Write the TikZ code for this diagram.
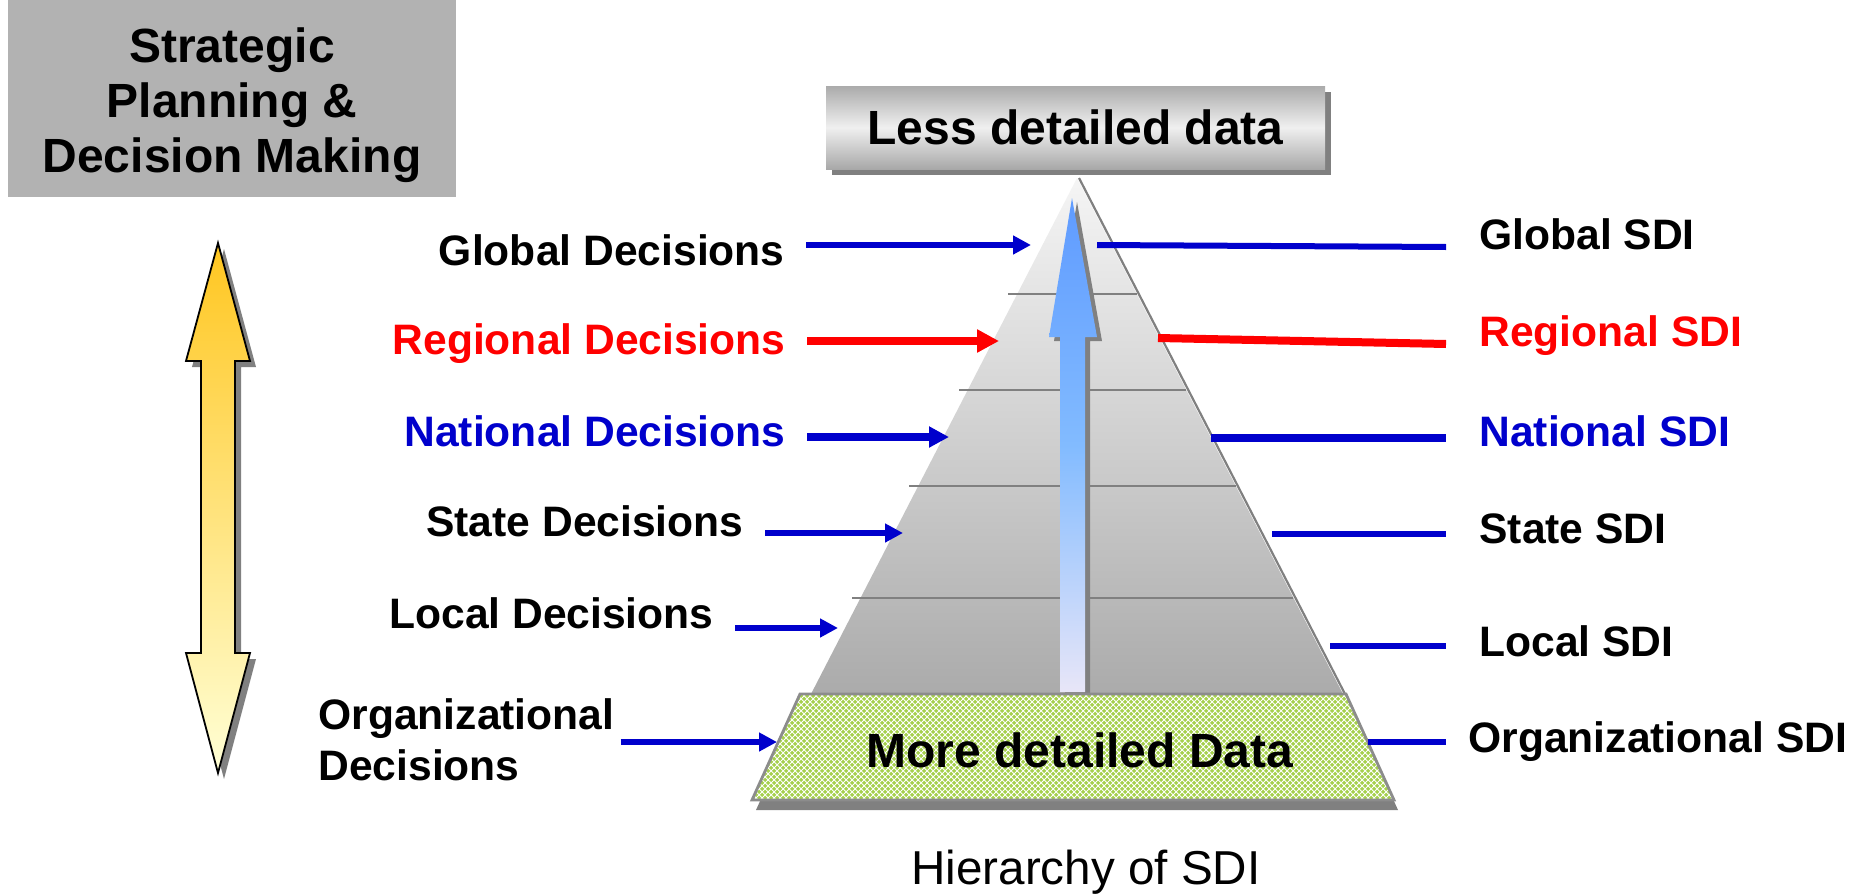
\documentclass[tikz,border=0pt]{standalone}
\usepackage{fontspec}
\setmainfont{Liberation Sans}
\usepackage{xcolor}
\usepackage{tikz}
\usetikzlibrary{arrows.meta, positioning, patterns, shadows}

\definecolor{sdiblue}{RGB}{0,0,204}
\definecolor{sdired}{RGB}{255,0,0}
\definecolor{boxgray}{RGB}{178,178,178}
\definecolor{shadowgray}{RGB}{128,128,128}
\definecolor{meshgreen}{RGB}{165,208,76}
\definecolor{arrowtop}{RGB}{95,155,255}
\definecolor{arrowmid}{RGB}{130,187,255}
\definecolor{arrowbot}{RGB}{232,230,248}
\definecolor{goldtop}{RGB}{255,198,32}
\definecolor{goldbot}{RGB}{255,255,214}

\tikzset{
  flatshadow/.style={general shadow={fill=shadowgray, shadow xshift=3pt,
                     shadow yshift=-3pt}},
  stratbox/.style={rectangle, fill=boxgray, align=center,
                   minimum width=224pt, minimum height=98.5pt,
                   font=\fontsize{24}{27.5}\selectfont\bfseries},
  levelbox/.style={rectangle, flatshadow, top color=black!33,
                   bottom color=black!34, middle color=white!94!black,
                   minimum width=249.5pt, minimum height=41.5pt,
                   font=\fontsize{24}{28}\selectfont\bfseries},
  meshbox/.style={general shadow={fill=shadowgray, shadow xshift=2pt,
                  shadow yshift=-5pt}, preaction={fill=meshgreen},
                  pattern=crosshatch, pattern color=white,
                  draw=black!45, line width=1.4pt},
  declabel/.style={anchor=base east, inner xsep=10.5pt, inner ysep=0pt,
                   font=\fontsize{21.3}{25}\selectfont\bfseries},
  sdilabel/.style={anchor=base west, inner xsep=16.5pt, inner ysep=0pt,
                   font=\fontsize{21.3}{25}\selectfont\bfseries},
  decarrow/.style={-{Triangle[length=9pt, width=9pt]}, line width=3pt,
                   draw=sdiblue},
  sdiline/.style={line width=3pt, draw=sdiblue},
  divider/.style={line width=1.1pt, draw=shadowgray},
}

\begin{document}
\begin{tikzpicture}[x=0.5pt, y=-0.5pt]
  \useasboundingbox (0,0) rectangle (1858,894);

  % Strategic planning box and up/down arrow
  \node[stratbox] (strat) at (232,98.5)
    {\rule{0pt}{24.5pt}Strategic\\Planning \&\\Decision Making};
  \shade[flatshadow, top color=goldtop, bottom color=goldbot, draw=black,
         line width=0.9pt]
    (218,243) -- (250,361) -- (235,361) -- (235,653) -- (250,653)
    -- (218,773) -- (186,653) -- (201,653) -- (201,361) -- (186,361) -- cycle;

  % Top box
  \node[levelbox] (less) at (1075.5,127.5) {Less detailed data};

  % Pyramid body
  \shade[top color=white!96!black, bottom color=black!33]
    (1077,178) -- (1343,694) -- (811,694) -- cycle;
  \foreach \y/\xl/\xr in {294/1008/1137, 390/959/1186, 486/909/1236,
                          598/852/1293}
    \draw[divider] (\xl,\y) -- (\xr,\y);
  \draw[line width=1.1pt, draw=shadowgray] (1079,178) -- (1345,694);

  % Data arrow
  \shade[general shadow={fill=shadowgray, shadow xshift=2.5pt,
         shadow yshift=-2pt},
         top color=arrowtop, bottom color=arrowbot, middle color=arrowmid]
    (1072,198) -- (1097,337) -- (1085,337) -- (1085,692) -- (1060,692)
    -- (1060,337) -- (1049,337) -- cycle;

  % Base of the pyramid
  \path[meshbox] (800,694) -- (1346,694) -- (1394,800) -- (752,800) -- cycle;
  \node[font=\fontsize{24}{28}\selectfont\bfseries, anchor=base] (more)
    at (1080,767) {More detailed Data};

  % Decision nodes
  \node[declabel] (gdec) at (806,265) {Global Decisions};
  \node[declabel, text=sdired] (rdec) at (807,354) {Regional Decisions};
  \node[declabel, text=sdiblue] (ndec) at (807,446) {National Decisions};
  \node[declabel] (sdec) at (765,536) {State Decisions};
  \node[declabel] (ldec) at (735,628) {Local Decisions};
  \node[declabel, anchor=west, align=left, inner xsep=3pt,
        font=\fontsize{21.3}{25.5}\selectfont\bfseries] (odec)
    at (312,740) {Organizational\\Decisions};

  % SDI nodes
  \node[sdilabel] (gsdi) at (1446,249) {Global SDI};
  \node[sdilabel, text=sdired] (rsdi) at (1446,346) {Regional SDI};
  \node[sdilabel, text=sdiblue] (nsdi) at (1446,446) {National SDI};
  \node[sdilabel] (ssdi) at (1446,543) {State SDI};
  \node[sdilabel] (lsdi) at (1446,656) {Local SDI};
  \node[sdilabel, inner xsep=11pt] (osdi)
    at (1446,752) {Organizational SDI};

  % Points on the pyramid
  \coordinate (ga) at (1031,245);
  \coordinate (ra) at (999,341);
  \coordinate (na) at (949,437);
  \coordinate (sa) at (903,533);
  \coordinate (la) at (838,628);
  \coordinate (oa) at (777,742);
  \coordinate (gl) at (1097,245);
  \coordinate (rl) at (1158,338);
  \coordinate (nl) at (1211,438);
  \coordinate (sl) at (1272,534);
  \coordinate (ll) at (1330,646);
  \coordinate (ol) at (1368,742);

  % Arrows in
  \draw[decarrow] (gdec.east |- ga) -- (ga);
  \draw[decarrow, draw=sdired, line width=4pt,
        -{Triangle[length=11pt, width=11pt]}] (rdec.east |- ra) -- (ra);
  \draw[decarrow, line width=3.6pt,
        -{Triangle[length=10pt, width=10pt]}] (ndec.east |- na) -- (na);
  \draw[decarrow] (sdec.east |- sa) -- (sa);
  \draw[decarrow] (ldec.east |- la) -- (la);
  \draw[decarrow] (odec.east |- oa) -- (oa);

  % Lines out
  \draw[sdiline] (gl) -- ([yshift=-1pt]gl -| gsdi.west);
  \draw[sdiline, draw=sdired, line width=4pt] (rl) -- ([yshift=-3pt]rl -| rsdi.west);
  \draw[sdiline, line width=3.6pt] (nl) -- (nl -| nsdi.west);
  \draw[sdiline] (sl) -- (sl -| ssdi.west);
  \draw[sdiline] (ll) -- (ll -| lsdi.west);
  \draw[sdiline] (ol) -- (ol -| osdi.west);

  % Caption
  \node[font=\fontsize{23.8}{28}\selectfont, anchor=base] (hier)
    at (1086,884) {Hierarchy of SDI};
\end{tikzpicture}
\end{document}
